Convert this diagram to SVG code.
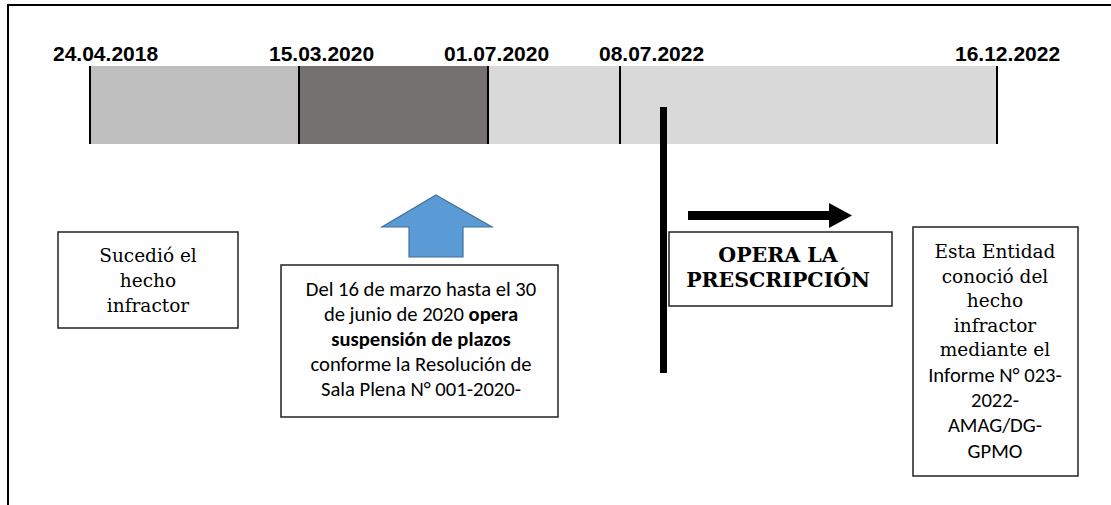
<svg xmlns="http://www.w3.org/2000/svg" width="1111" height="505" viewBox="0 0 1111 505">
  <style>
    .date { font-family: "Liberation Sans", Arial, sans-serif; font-weight: bold; font-size: 21px; fill: #000; }
    .serif { font-family: "DejaVu Serif", Georgia, serif; font-size: 18.5px; fill: #000; text-anchor: middle; }
    .serifb { font-family: "DejaVu Serif", Georgia, serif; font-size: 20.5px; font-weight: bold; fill: #000; text-anchor: middle; }
    .sans { font-family: Carlito, Lato, "Liberation Sans", sans-serif; font-size: 20.6px; fill: #000; text-anchor: middle; }
    .box { fill: #fff; stroke: #222; stroke-width: 1.5; }
    .div { stroke: #000; stroke-width: 2; }
  </style>
  <rect x="0" y="0" width="1111" height="505" fill="#fff"/>
  <g id="frame">
    <line x1="8" y1="5" x2="1111" y2="5" stroke="#000" stroke-width="2"/>
    <line x1="8" y1="4" x2="8" y2="505" stroke="#000" stroke-width="2"/>
  </g>
  <g id="timeline">
    <rect x="90" y="66" width="209" height="78" fill="#BFBFBF"/>
    <rect x="299" y="66" width="189" height="78" fill="#767171"/>
    <rect x="488" y="66" width="509" height="78" fill="#D9D9D9"/>
    <line class="div" x1="90" y1="66" x2="90" y2="144"/>
    <line class="div" x1="299" y1="66" x2="299" y2="144"/>
    <line class="div" x1="488" y1="66" x2="488" y2="144"/>
    <line class="div" x1="620" y1="66" x2="620" y2="144"/>
    <line class="div" x1="997" y1="66" x2="997" y2="144"/>
  </g>
  <g id="dates">
    <text class="date" x="53" y="61">24.04.2018</text>
    <text class="date" x="269" y="61">15.03.2020</text>
    <text class="date" x="444" y="61">01.07.2020</text>
    <text class="date" x="599" y="61">08.07.2022</text>
    <text class="date" x="955" y="61">16.12.2022</text>
  </g>
  <g id="connectors">
    <rect id="cut-line" x="660" y="107" width="7" height="266" fill="#000"/>
    <polygon id="up-arrow" points="436,195 492,227 463,227 463,257 409,257 409,227 382,227" fill="#5B9BD5" stroke="#41719C" stroke-width="1.2"/>
    <polygon id="right-arrow" points="688,211 829,211 829,203 852,215.5 829,228 829,220 688,220" fill="#000"/>
  </g>
  <g id="node-sucedio">
    <rect class="box" x="58" y="232" width="180" height="96"/>
    <text class="serif" x="148" y="262">Sucedió el</text>
    <text class="serif" x="148" y="287">hecho</text>
    <text class="serif" x="148" y="312">infractor</text>
  </g>
  <g id="node-suspension">
    <rect class="box" x="281" y="265" width="277" height="152"/>
    <text class="sans" x="421" y="296">Del 16 de marzo hasta el 30</text>
    <text class="sans" x="421" y="321">de junio de 2020 <tspan font-weight="bold">opera</tspan></text>
    <text class="sans" x="421" y="346" font-weight="bold">suspensión de plazos</text>
    <text class="sans" x="421" y="371">conforme la Resolución de</text>
    <text class="sans" x="421" y="396">Sala Plena N° 001-2020-</text>
  </g>
  <g id="node-prescripcion">
    <rect class="box" x="669" y="232" width="223" height="74"/>
    <text class="serifb" x="778" y="262">OPERA LA</text>
    <text class="serifb" x="778" y="287">PRESCRIPCIÓN</text>
  </g>
  <g id="node-entidad">
    <rect class="box" x="913" y="227" width="165" height="249"/>
    <text class="serif" x="995" y="258">Esta Entidad</text>
    <text class="serif" x="995" y="283">conoció del</text>
    <text class="serif" x="995" y="307">hecho</text>
    <text class="serif" x="995" y="332">infractor</text>
    <text class="serif" x="995" y="356">mediante el</text>
    <text class="sans" x="995" y="382">Informe N° 023-</text>
    <text class="sans" x="995" y="407">2022-</text>
    <text class="sans" x="995" y="432">AMAG/DG-</text>
    <text class="sans" x="995" y="458">GPMO</text>
  </g>
</svg>
